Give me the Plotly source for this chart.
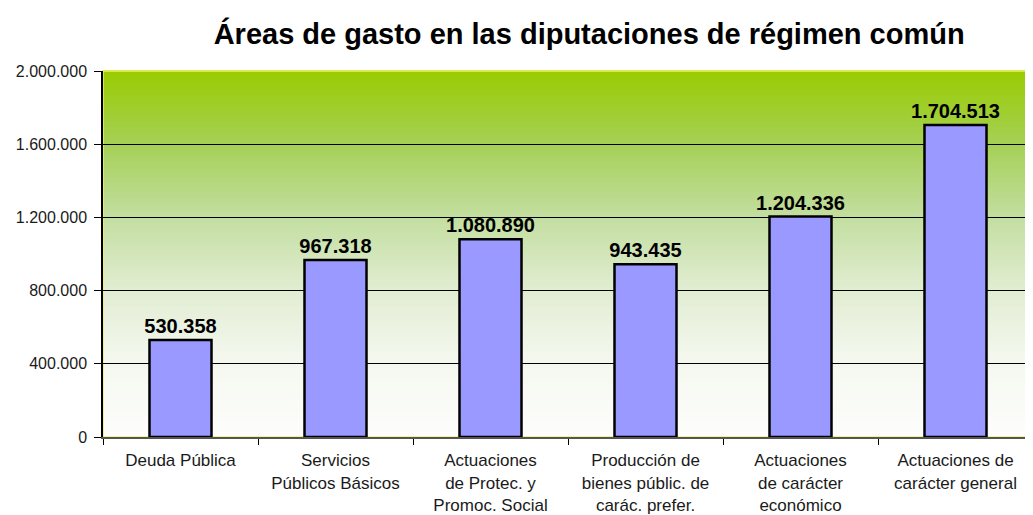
import plotly.graph_objects as go

categories = [
    "Deuda Pública",
    "Servicios<br>Públicos Básicos",
    "Actuaciones<br>de Protec. y<br>Promoc. Social",
    "Producción de<br>bienes públic. de<br>carác. prefer.",
    "Actuaciones<br>de carácter<br>económico",
    "Actuaciones de<br>carácter general",
]
values = [530358, 967318, 1080890, 943435, 1204336, 1704513]
y_ticks = [0, 400000, 800000, 1200000, 1600000, 2000000]

BOLD = "Liberation Sans, Arial, sans-serif"
SANS = "Liberation Sans, Arial, sans-serif"

fig = go.Figure()
fig.add_trace(go.Bar(
    x=categories, y=values,
    width=0.4,
    marker=dict(color="#9999FF", line=dict(color="#000000", width=2.5)),
    texttemplate="<b>%{y:,d}</b>", textposition="outside",
    constraintext="none",
    textfont=dict(family=BOLD, size=20, color="#000000"),
    cliponaxis=False,
    hoverinfo="skip",
))

# vertical gradient background (decorative): colour stops from top to bottom
stops = [(0.0, (153, 204, 0)), (0.2, (165, 208, 85)), (0.4, (195, 222, 160)),
         (0.6, (225, 237, 210)), (0.8, (245, 248, 240)), (1.0, (253, 253, 252))]


def grad(t):
    for (t0, c0), (t1, c1) in zip(stops[:-1], stops[1:]):
        if t <= t1:
            f = (t - t0) / (t1 - t0)
            return tuple(int(round(c0[k] + (c1[k] - c0[k]) * f)) for k in range(3))
    return stops[-1][1]


shapes = []
n = 150
for i in range(n):
    t = (i + 0.5) / n
    c = grad(t)
    shapes.append(dict(
        type="rect", xref="x domain", yref="y domain", layer="below",
        x0=0, x1=1, y0=1 - (i + 1) / n, y1=1 - i / n + 0.002,
        line=dict(width=0), fillcolor="rgb(%d,%d,%d)" % c,
    ))
shapes.append(dict(type="rect", xref="x domain", yref="y domain", layer="below",
                   x0=0, x1=1, y0=0, y1=1, line=dict(color="#F0F060", width=1.5),
                   fillcolor="rgba(0,0,0,0)"))

fig.update_layout(
    width=1025, height=507,
    margin=dict(l=95, r=0, t=63, b=78),
    paper_bgcolor="#FFFFFF", plot_bgcolor="#FFFFFF",
    separators=",.",
    showlegend=False,
    shapes=shapes,
    title=dict(text="<b>Áreas de gasto en las diputaciones de régimen común</b>",
               x=0.567, xanchor="center", y=0.95, yanchor="middle",
               font=dict(family=BOLD, size=29, color="#000000")),
    bargap=0.6,
)
fig.update_xaxes(
    type="category", range=[-0.5, 5.5], automargin=False,
    tickson="boundaries", ticks="outside", ticklen=6, tickcolor="#000000",
    showline=True, linecolor="#555555", linewidth=2,
    showgrid=False, ticklabelstandoff=7,
    tickfont=dict(family=SANS, size=17, color="#1a1a1a"),
)
fig.update_yaxes(
    range=[0, 2000000], tickvals=y_ticks, tickformat=",d", automargin=False,
    ticks="outside", ticklen=7, tickcolor="#000000",
    showline=True, linecolor="#000000", linewidth=1.5,
    showgrid=True, gridcolor="#000000", gridwidth=1,
    zeroline=False, ticklabelstandoff=4,
    tickfont=dict(family=SANS, size=16, color="#1a1a1a"),
)

fig.write_html("out.html")
